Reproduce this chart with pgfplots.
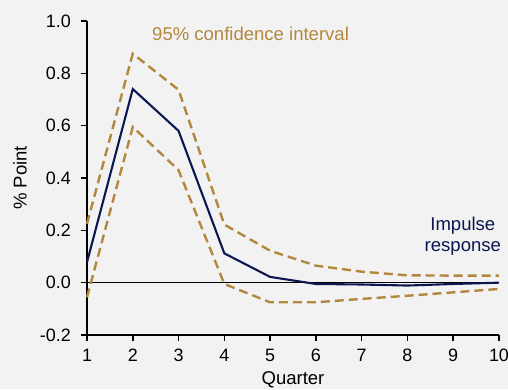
\documentclass[border=0pt]{standalone}
\usepackage{pgfplots}
\pgfplotsset{compat=1.18}
\usepackage{fontspec}
\setmainfont{Liberation Sans}
\definecolor{bg}{RGB}{242,242,242}
\definecolor{navy}{RGB}{12,22,80}
\definecolor{gold}{RGB}{178,136,62}
\newcommand{\ff}{\fontsize{18}{21}\selectfont}
\newcommand{\fl}{\fontsize{18.6}{22}\selectfont}
\begin{document}
\begin{tikzpicture}
\path[fill=bg, use as bounding box] (-87bp,-54.3bp) rectangle (421bp,335bp);
\begin{axis}[
  at={(0,0)}, anchor=south west,
  scale only axis, width=412bp, height=314bp,
  xmin=1, xmax=10, ymin=-0.2, ymax=1.0,
  axis x line*=bottom, axis y line*=left,
  axis line style={line width=1.5bp, black},
  tick style={line width=1.5bp, black},
  tick align=outside, major tick length=6bp,
  xtick={1,2,3,4,5,6,7,8,9,10},
  ytick={-0.2,0,0.2,0.4,0.6,0.8,1.0},
  yticklabel style={/pgf/number format/fixed, /pgf/number format/fixed zerofill, /pgf/number format/precision=1},
  /pgf/number format/assume math mode=true,
  ticklabel style={font=\ff, inner sep=0pt},
  xticklabel shift=8bp, yticklabel shift=10bp,
  clip=false,
]
\addplot[black, line width=1bp] coordinates {(1,0) (10,0)};
\addplot[gold, line width=2.4bp, dash pattern=on 9bp off 5bp] coordinates {
(1,0.225)(2,0.875)(3,0.737)(4,0.222)(5,0.122)(6,0.065)(7,0.042)(8,0.028)(9,0.027)(10,0.027)};
\addplot[gold, line width=2.4bp, dash pattern=on 9bp off 5bp] coordinates {
(1,-0.056)(2,0.595)(3,0.43)(4,-0.005)(5,-0.075)(6,-0.075)(7,-0.062)(8,-0.05)(9,-0.037)(10,-0.024)};
\addplot[navy, line width=2.1bp] coordinates {
(1,0.078)(2,0.74)(3,0.58)(4,0.112)(5,0.022)(6,-0.005)(7,-0.007)(8,-0.011)(9,-0.005)(10,0.0)};
\node[anchor=base west, text=gold, font=\fl, inner sep=0pt] at (axis cs:2.42,0.925) {95\% confidence interval};
\node[anchor=base, text=navy, font=\fl, inner sep=0pt] at (axis cs:9.21,0.199) {Impulse};
\node[anchor=base, text=navy, font=\fl, inner sep=0pt] at (axis cs:9.21,0.119) {response};
\node[anchor=base, font=\fl, inner sep=0pt] at ([yshift=-49bp]rel axis cs:0.5,0) {Quarter};
\node[rotate=90, anchor=center, font=\fl, inner sep=0pt] at ([xshift=-67bp]rel axis cs:0,0.5) {\% Point};
\end{axis}
\end{tikzpicture}
\end{document}
